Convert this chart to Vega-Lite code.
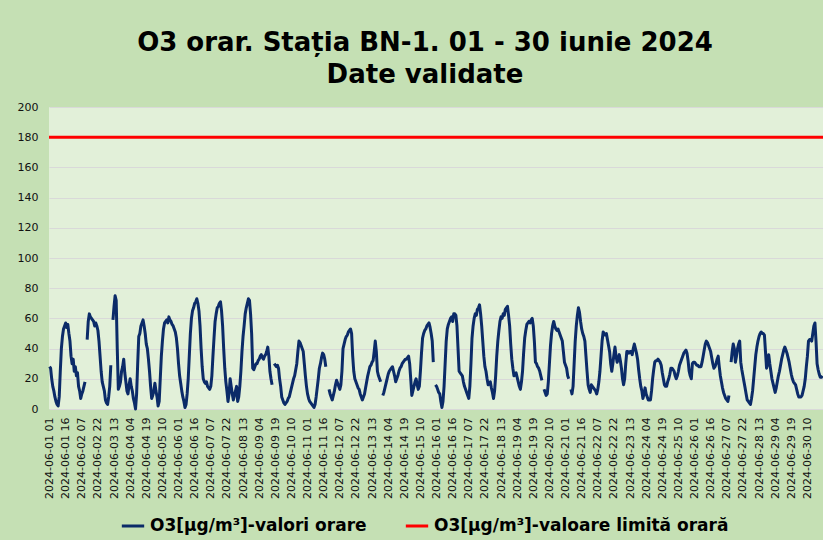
{
  "$schema": "https://vega.github.io/schema/vega-lite/v6.json",
  "autosize": {"type": "none"},
  "width": 774,
  "height": 302,
  "padding": {"left": 49, "top": 107, "right": 0, "bottom": 131},
  "background": "#c5e0b4",
  "title": {
    "text": ["O3 orar. Stația BN-1. 01 - 30 iunie 2024", "Date validate"],
    "font": "DejaVu Sans",
    "fontSize": 26,
    "fontWeight": "bold",
    "color": "#000000",
    "lineHeight": 32,
    "anchor": "middle",
    "dx": -11,
    "offset": 13
  },
  "config": {
    "view": {"fill": "#e2f0d9", "stroke": null},
    "font": "DejaVu Sans",
    "axisY": {
      "values": [0,20,40,60,80,100,120,140,160,180,200],
      "labelFontSize": 11, "labelColor": "#111111", "labelFont": "DejaVu Sans",
      "labelOverlap": false, "labelFlush": false,
      "ticks": false, "domain": false, "labelPadding": 11,
      "grid": true, "gridColor": "#d9d9d9", "gridWidth": 1, "title": null
    }
  },
  "layer": [
    {
      "data": {"values": [
{"t":"2024-06-01 01","v":28},{"t":"2024-06-01 02","v":27},{"t":"2024-06-01 03","v":20},{"t":"2024-06-01 04","v":15},{"t":"2024-06-01 05","v":12},{"t":"2024-06-01 06","v":8},{"t":"2024-06-01 07","v":5},{"t":"2024-06-01 08","v":3},{"t":"2024-06-01 09","v":2},{"t":"2024-06-01 10","v":8},{"t":"2024-06-01 11","v":25},{"t":"2024-06-01 12","v":40},{"t":"2024-06-01 13","v":48},{"t":"2024-06-01 14","v":53},{"t":"2024-06-01 15","v":55},{"t":"2024-06-01 16","v":57},{"t":"2024-06-01 17","v":54},{"t":"2024-06-01 18","v":56},{"t":"2024-06-01 19","v":50},{"t":"2024-06-01 20","v":45},{"t":"2024-06-01 21","v":35},{"t":"2024-06-01 22","v":30},{"t":"2024-06-01 23","v":33},{"t":"2024-06-01 24","v":25},
{"t":"2024-06-02 01","v":28},{"t":"2024-06-02 02","v":22},{"t":"2024-06-02 03","v":24},{"t":"2024-06-02 04","v":15},{"t":"2024-06-02 05","v":12},{"t":"2024-06-02 06","v":7},{"t":"2024-06-02 07","v":10},{"t":"2024-06-02 08","v":12},{"t":"2024-06-02 09","v":15},{"t":"2024-06-02 10","v":18},{"t":"2024-06-02 11","v":null},{"t":"2024-06-02 12","v":46},{"t":"2024-06-02 13","v":58},{"t":"2024-06-02 14","v":63},{"t":"2024-06-02 15","v":61},{"t":"2024-06-02 16","v":60},{"t":"2024-06-02 17","v":59},{"t":"2024-06-02 18","v":58},{"t":"2024-06-02 19","v":55},{"t":"2024-06-02 20","v":57},{"t":"2024-06-02 21","v":55},{"t":"2024-06-02 22","v":52},{"t":"2024-06-02 23","v":45},{"t":"2024-06-02 24","v":35},
{"t":"2024-06-03 01","v":25},{"t":"2024-06-03 02","v":18},{"t":"2024-06-03 03","v":15},{"t":"2024-06-03 04","v":12},{"t":"2024-06-03 05","v":6},{"t":"2024-06-03 06","v":4},{"t":"2024-06-03 07","v":3},{"t":"2024-06-03 08","v":8},{"t":"2024-06-03 09","v":15},{"t":"2024-06-03 10","v":29},{"t":"2024-06-03 11","v":null},{"t":"2024-06-03 12","v":59},{"t":"2024-06-03 13","v":68},{"t":"2024-06-03 14","v":75},{"t":"2024-06-03 15","v":72},{"t":"2024-06-03 16","v":40},{"t":"2024-06-03 17","v":13},{"t":"2024-06-03 18","v":15},{"t":"2024-06-03 19","v":18},{"t":"2024-06-03 20","v":25},{"t":"2024-06-03 21","v":28},{"t":"2024-06-03 22","v":33},{"t":"2024-06-03 23","v":24},{"t":"2024-06-03 24","v":18},
{"t":"2024-06-04 01","v":12},{"t":"2024-06-04 02","v":10},{"t":"2024-06-04 03","v":16},{"t":"2024-06-04 04","v":20},{"t":"2024-06-04 05","v":15},{"t":"2024-06-04 06","v":12},{"t":"2024-06-04 07","v":7},{"t":"2024-06-04 08","v":4},{"t":"2024-06-04 09","v":0},{"t":"2024-06-04 10","v":10},{"t":"2024-06-04 11","v":30},{"t":"2024-06-04 12","v":48},{"t":"2024-06-04 13","v":50},{"t":"2024-06-04 14","v":55},{"t":"2024-06-04 15","v":57},{"t":"2024-06-04 16","v":59},{"t":"2024-06-04 17","v":55},{"t":"2024-06-04 18","v":50},{"t":"2024-06-04 19","v":43},{"t":"2024-06-04 20","v":40},{"t":"2024-06-04 21","v":33},{"t":"2024-06-04 22","v":25},{"t":"2024-06-04 23","v":15},{"t":"2024-06-04 24","v":7},
{"t":"2024-06-05 01","v":9},{"t":"2024-06-05 02","v":12},{"t":"2024-06-05 03","v":17},{"t":"2024-06-05 04","v":12},{"t":"2024-06-05 05","v":8},{"t":"2024-06-05 06","v":2},{"t":"2024-06-05 07","v":5},{"t":"2024-06-05 08","v":20},{"t":"2024-06-05 09","v":35},{"t":"2024-06-05 10","v":45},{"t":"2024-06-05 11","v":53},{"t":"2024-06-05 12","v":57},{"t":"2024-06-05 13","v":58},{"t":"2024-06-05 14","v":59},{"t":"2024-06-05 15","v":57},{"t":"2024-06-05 16","v":61},{"t":"2024-06-05 17","v":59},{"t":"2024-06-05 18","v":58},{"t":"2024-06-05 19","v":56},{"t":"2024-06-05 20","v":55},{"t":"2024-06-05 21","v":53},{"t":"2024-06-05 22","v":51},{"t":"2024-06-05 23","v":47},{"t":"2024-06-05 24","v":40},
{"t":"2024-06-06 01","v":30},{"t":"2024-06-06 02","v":22},{"t":"2024-06-06 03","v":17},{"t":"2024-06-06 04","v":12},{"t":"2024-06-06 05","v":8},{"t":"2024-06-06 06","v":5},{"t":"2024-06-06 07","v":1},{"t":"2024-06-06 08","v":3},{"t":"2024-06-06 09","v":10},{"t":"2024-06-06 10","v":20},{"t":"2024-06-06 11","v":35},{"t":"2024-06-06 12","v":50},{"t":"2024-06-06 13","v":60},{"t":"2024-06-06 14","v":65},{"t":"2024-06-06 15","v":67},{"t":"2024-06-06 16","v":70},{"t":"2024-06-06 17","v":71},{"t":"2024-06-06 18","v":73},{"t":"2024-06-06 19","v":70},{"t":"2024-06-06 20","v":65},{"t":"2024-06-06 21","v":55},{"t":"2024-06-06 22","v":40},{"t":"2024-06-06 23","v":28},{"t":"2024-06-06 24","v":20},
{"t":"2024-06-07 01","v":18},{"t":"2024-06-07 02","v":17},{"t":"2024-06-07 03","v":18},{"t":"2024-06-07 04","v":15},{"t":"2024-06-07 05","v":14},{"t":"2024-06-07 06","v":13},{"t":"2024-06-07 07","v":15},{"t":"2024-06-07 08","v":22},{"t":"2024-06-07 09","v":35},{"t":"2024-06-07 10","v":47},{"t":"2024-06-07 11","v":58},{"t":"2024-06-07 12","v":63},{"t":"2024-06-07 13","v":67},{"t":"2024-06-07 14","v":68},{"t":"2024-06-07 15","v":70},{"t":"2024-06-07 16","v":71},{"t":"2024-06-07 17","v":65},{"t":"2024-06-07 18","v":55},{"t":"2024-06-07 19","v":40},{"t":"2024-06-07 20","v":27},{"t":"2024-06-07 21","v":18},{"t":"2024-06-07 22","v":12},{"t":"2024-06-07 23","v":5},{"t":"2024-06-07 24","v":10},
{"t":"2024-06-08 01","v":20},{"t":"2024-06-08 02","v":15},{"t":"2024-06-08 03","v":10},{"t":"2024-06-08 04","v":6},{"t":"2024-06-08 05","v":9},{"t":"2024-06-08 06","v":12},{"t":"2024-06-08 07","v":15},{"t":"2024-06-08 08","v":5},{"t":"2024-06-08 09","v":8},{"t":"2024-06-08 10","v":15},{"t":"2024-06-08 11","v":25},{"t":"2024-06-08 12","v":38},{"t":"2024-06-08 13","v":48},{"t":"2024-06-08 14","v":55},{"t":"2024-06-08 15","v":63},{"t":"2024-06-08 16","v":67},{"t":"2024-06-08 17","v":70},{"t":"2024-06-08 18","v":73},{"t":"2024-06-08 19","v":72},{"t":"2024-06-08 20","v":63},{"t":"2024-06-08 21","v":50},{"t":"2024-06-08 22","v":27},{"t":"2024-06-08 23","v":26},{"t":"2024-06-08 24","v":28},
{"t":"2024-06-09 01","v":30},{"t":"2024-06-09 02","v":30},{"t":"2024-06-09 03","v":32},{"t":"2024-06-09 04","v":33},{"t":"2024-06-09 05","v":35},{"t":"2024-06-09 06","v":36},{"t":"2024-06-09 07","v":34},{"t":"2024-06-09 08","v":33},{"t":"2024-06-09 09","v":35},{"t":"2024-06-09 10","v":36},{"t":"2024-06-09 11","v":38},{"t":"2024-06-09 12","v":41},{"t":"2024-06-09 13","v":35},{"t":"2024-06-09 14","v":25},{"t":"2024-06-09 15","v":20},{"t":"2024-06-09 16","v":16},{"t":"2024-06-09 17","v":null},{"t":"2024-06-09 18","v":30},{"t":"2024-06-09 19","v":29},{"t":"2024-06-09 20","v":28},{"t":"2024-06-09 21","v":29},{"t":"2024-06-09 22","v":27},{"t":"2024-06-09 23","v":20},{"t":"2024-06-09 24","v":15},
{"t":"2024-06-10 01","v":8},{"t":"2024-06-10 02","v":6},{"t":"2024-06-10 03","v":4},{"t":"2024-06-10 04","v":3},{"t":"2024-06-10 05","v":4},{"t":"2024-06-10 06","v":5},{"t":"2024-06-10 07","v":7},{"t":"2024-06-10 08","v":8},{"t":"2024-06-10 09","v":11},{"t":"2024-06-10 10","v":14},{"t":"2024-06-10 11","v":17},{"t":"2024-06-10 12","v":20},{"t":"2024-06-10 13","v":22},{"t":"2024-06-10 14","v":26},{"t":"2024-06-10 15","v":30},{"t":"2024-06-10 16","v":38},{"t":"2024-06-10 17","v":45},{"t":"2024-06-10 18","v":44},{"t":"2024-06-10 19","v":42},{"t":"2024-06-10 20","v":40},{"t":"2024-06-10 21","v":38},{"t":"2024-06-10 22","v":30},{"t":"2024-06-10 23","v":22},{"t":"2024-06-10 24","v":15},
{"t":"2024-06-11 01","v":10},{"t":"2024-06-11 02","v":7},{"t":"2024-06-11 03","v":5},{"t":"2024-06-11 04","v":4},{"t":"2024-06-11 05","v":3},{"t":"2024-06-11 06","v":2},{"t":"2024-06-11 07","v":1},{"t":"2024-06-11 08","v":3},{"t":"2024-06-11 09","v":8},{"t":"2024-06-11 10","v":14},{"t":"2024-06-11 11","v":20},{"t":"2024-06-11 12","v":27},{"t":"2024-06-11 13","v":30},{"t":"2024-06-11 14","v":34},{"t":"2024-06-11 15","v":37},{"t":"2024-06-11 16","v":36},{"t":"2024-06-11 17","v":33},{"t":"2024-06-11 18","v":28},{"t":"2024-06-11 19","v":null},{"t":"2024-06-11 20","v":null},{"t":"2024-06-11 21","v":13},{"t":"2024-06-11 22","v":10},{"t":"2024-06-11 23","v":8},{"t":"2024-06-11 24","v":6},
{"t":"2024-06-12 01","v":9},{"t":"2024-06-12 02","v":12},{"t":"2024-06-12 03","v":16},{"t":"2024-06-12 04","v":19},{"t":"2024-06-12 05","v":17},{"t":"2024-06-12 06","v":15},{"t":"2024-06-12 07","v":13},{"t":"2024-06-12 08","v":16},{"t":"2024-06-12 09","v":25},{"t":"2024-06-12 10","v":40},{"t":"2024-06-12 11","v":43},{"t":"2024-06-12 12","v":46},{"t":"2024-06-12 13","v":48},{"t":"2024-06-12 14","v":49},{"t":"2024-06-12 15","v":51},{"t":"2024-06-12 16","v":52},{"t":"2024-06-12 17","v":53},{"t":"2024-06-12 18","v":50},{"t":"2024-06-12 19","v":35},{"t":"2024-06-12 20","v":25},{"t":"2024-06-12 21","v":20},{"t":"2024-06-12 22","v":18},{"t":"2024-06-12 23","v":16},{"t":"2024-06-12 24","v":14},
{"t":"2024-06-13 01","v":13},{"t":"2024-06-13 02","v":10},{"t":"2024-06-13 03","v":8},{"t":"2024-06-13 04","v":6},{"t":"2024-06-13 05","v":8},{"t":"2024-06-13 06","v":10},{"t":"2024-06-13 07","v":14},{"t":"2024-06-13 08","v":18},{"t":"2024-06-13 09","v":22},{"t":"2024-06-13 10","v":25},{"t":"2024-06-13 11","v":28},{"t":"2024-06-13 12","v":29},{"t":"2024-06-13 13","v":31},{"t":"2024-06-13 14","v":32},{"t":"2024-06-13 15","v":38},{"t":"2024-06-13 16","v":45},{"t":"2024-06-13 17","v":38},{"t":"2024-06-13 18","v":25},{"t":"2024-06-13 19","v":22},{"t":"2024-06-13 20","v":20},{"t":"2024-06-13 21","v":18},{"t":"2024-06-13 22","v":null},{"t":"2024-06-13 23","v":9},{"t":"2024-06-13 24","v":11},
{"t":"2024-06-14 01","v":14},{"t":"2024-06-14 02","v":17},{"t":"2024-06-14 03","v":20},{"t":"2024-06-14 04","v":23},{"t":"2024-06-14 05","v":25},{"t":"2024-06-14 06","v":26},{"t":"2024-06-14 07","v":27},{"t":"2024-06-14 08","v":28},{"t":"2024-06-14 09","v":25},{"t":"2024-06-14 10","v":22},{"t":"2024-06-14 11","v":18},{"t":"2024-06-14 12","v":20},{"t":"2024-06-14 13","v":22},{"t":"2024-06-14 14","v":25},{"t":"2024-06-14 15","v":27},{"t":"2024-06-14 16","v":28},{"t":"2024-06-14 17","v":30},{"t":"2024-06-14 18","v":31},{"t":"2024-06-14 19","v":32},{"t":"2024-06-14 20","v":33},{"t":"2024-06-14 21","v":33},{"t":"2024-06-14 22","v":34},{"t":"2024-06-14 23","v":35},{"t":"2024-06-14 24","v":30},
{"t":"2024-06-15 01","v":20},{"t":"2024-06-15 02","v":9},{"t":"2024-06-15 03","v":12},{"t":"2024-06-15 04","v":15},{"t":"2024-06-15 05","v":18},{"t":"2024-06-15 06","v":20},{"t":"2024-06-15 07","v":16},{"t":"2024-06-15 08","v":13},{"t":"2024-06-15 09","v":15},{"t":"2024-06-15 10","v":25},{"t":"2024-06-15 11","v":37},{"t":"2024-06-15 12","v":47},{"t":"2024-06-15 13","v":50},{"t":"2024-06-15 14","v":52},{"t":"2024-06-15 15","v":53},{"t":"2024-06-15 16","v":55},{"t":"2024-06-15 17","v":56},{"t":"2024-06-15 18","v":57},{"t":"2024-06-15 19","v":54},{"t":"2024-06-15 20","v":50},{"t":"2024-06-15 21","v":45},{"t":"2024-06-15 22","v":31},{"t":"2024-06-15 23","v":null},{"t":"2024-06-15 24","v":16},
{"t":"2024-06-16 01","v":15},{"t":"2024-06-16 02","v":13},{"t":"2024-06-16 03","v":11},{"t":"2024-06-16 04","v":10},{"t":"2024-06-16 05","v":5},{"t":"2024-06-16 06","v":1},{"t":"2024-06-16 07","v":5},{"t":"2024-06-16 08","v":15},{"t":"2024-06-16 09","v":30},{"t":"2024-06-16 10","v":45},{"t":"2024-06-16 11","v":53},{"t":"2024-06-16 12","v":56},{"t":"2024-06-16 13","v":58},{"t":"2024-06-16 14","v":60},{"t":"2024-06-16 15","v":61},{"t":"2024-06-16 16","v":58},{"t":"2024-06-16 17","v":63},{"t":"2024-06-16 18","v":63},{"t":"2024-06-16 19","v":62},{"t":"2024-06-16 20","v":55},{"t":"2024-06-16 21","v":40},{"t":"2024-06-16 22","v":25},{"t":"2024-06-16 23","v":24},{"t":"2024-06-16 24","v":23},
{"t":"2024-06-17 01","v":22},{"t":"2024-06-17 02","v":18},{"t":"2024-06-17 03","v":15},{"t":"2024-06-17 04","v":13},{"t":"2024-06-17 05","v":11},{"t":"2024-06-17 06","v":9},{"t":"2024-06-17 07","v":7},{"t":"2024-06-17 08","v":15},{"t":"2024-06-17 09","v":30},{"t":"2024-06-17 10","v":47},{"t":"2024-06-17 11","v":55},{"t":"2024-06-17 12","v":60},{"t":"2024-06-17 13","v":63},{"t":"2024-06-17 14","v":62},{"t":"2024-06-17 15","v":66},{"t":"2024-06-17 16","v":67},{"t":"2024-06-17 17","v":69},{"t":"2024-06-17 18","v":63},{"t":"2024-06-17 19","v":55},{"t":"2024-06-17 20","v":45},{"t":"2024-06-17 21","v":35},{"t":"2024-06-17 22","v":28},{"t":"2024-06-17 23","v":25},{"t":"2024-06-17 24","v":20},
{"t":"2024-06-18 01","v":16},{"t":"2024-06-18 02","v":17},{"t":"2024-06-18 03","v":18},{"t":"2024-06-18 04","v":14},{"t":"2024-06-18 05","v":11},{"t":"2024-06-18 06","v":7},{"t":"2024-06-18 07","v":12},{"t":"2024-06-18 08","v":22},{"t":"2024-06-18 09","v":35},{"t":"2024-06-18 10","v":45},{"t":"2024-06-18 11","v":52},{"t":"2024-06-18 12","v":58},{"t":"2024-06-18 13","v":61},{"t":"2024-06-18 14","v":60},{"t":"2024-06-18 15","v":63},{"t":"2024-06-18 16","v":62},{"t":"2024-06-18 17","v":66},{"t":"2024-06-18 18","v":67},{"t":"2024-06-18 19","v":68},{"t":"2024-06-18 20","v":62},{"t":"2024-06-18 21","v":55},{"t":"2024-06-18 22","v":43},{"t":"2024-06-18 23","v":33},{"t":"2024-06-18 24","v":27},
{"t":"2024-06-19 01","v":22},{"t":"2024-06-19 02","v":23},{"t":"2024-06-19 03","v":24},{"t":"2024-06-19 04","v":21},{"t":"2024-06-19 05","v":18},{"t":"2024-06-19 06","v":15},{"t":"2024-06-19 07","v":13},{"t":"2024-06-19 08","v":18},{"t":"2024-06-19 09","v":25},{"t":"2024-06-19 10","v":37},{"t":"2024-06-19 11","v":47},{"t":"2024-06-19 12","v":52},{"t":"2024-06-19 13","v":56},{"t":"2024-06-19 14","v":57},{"t":"2024-06-19 15","v":58},{"t":"2024-06-19 16","v":57},{"t":"2024-06-19 17","v":59},{"t":"2024-06-19 18","v":60},{"t":"2024-06-19 19","v":55},{"t":"2024-06-19 20","v":45},{"t":"2024-06-19 21","v":31},{"t":"2024-06-19 22","v":30},{"t":"2024-06-19 23","v":28},{"t":"2024-06-19 24","v":27},
{"t":"2024-06-20 01","v":25},{"t":"2024-06-20 02","v":22},{"t":"2024-06-20 03","v":19},{"t":"2024-06-20 04","v":null},{"t":"2024-06-20 05","v":13},{"t":"2024-06-20 06","v":11},{"t":"2024-06-20 07","v":9},{"t":"2024-06-20 08","v":10},{"t":"2024-06-20 09","v":18},{"t":"2024-06-20 10","v":30},{"t":"2024-06-20 11","v":42},{"t":"2024-06-20 12","v":50},{"t":"2024-06-20 13","v":55},{"t":"2024-06-20 14","v":58},{"t":"2024-06-20 15","v":55},{"t":"2024-06-20 16","v":53},{"t":"2024-06-20 17","v":52},{"t":"2024-06-20 18","v":53},{"t":"2024-06-20 19","v":51},{"t":"2024-06-20 20","v":49},{"t":"2024-06-20 21","v":47},{"t":"2024-06-20 22","v":45},{"t":"2024-06-20 23","v":38},{"t":"2024-06-20 24","v":31},
{"t":"2024-06-21 01","v":29},{"t":"2024-06-21 02","v":27},{"t":"2024-06-21 03","v":22},{"t":"2024-06-21 04","v":20},{"t":"2024-06-21 05","v":null},{"t":"2024-06-21 06","v":13},{"t":"2024-06-21 07","v":10},{"t":"2024-06-21 08","v":15},{"t":"2024-06-21 09","v":30},{"t":"2024-06-21 10","v":45},{"t":"2024-06-21 11","v":55},{"t":"2024-06-21 12","v":62},{"t":"2024-06-21 13","v":67},{"t":"2024-06-21 14","v":64},{"t":"2024-06-21 15","v":58},{"t":"2024-06-21 16","v":53},{"t":"2024-06-21 17","v":50},{"t":"2024-06-21 18","v":48},{"t":"2024-06-21 19","v":45},{"t":"2024-06-21 20","v":35},{"t":"2024-06-21 21","v":25},{"t":"2024-06-21 22","v":16},{"t":"2024-06-21 23","v":13},{"t":"2024-06-21 24","v":11},
{"t":"2024-06-22 01","v":16},{"t":"2024-06-22 02","v":15},{"t":"2024-06-22 03","v":14},{"t":"2024-06-22 04","v":13},{"t":"2024-06-22 05","v":12},{"t":"2024-06-22 06","v":10},{"t":"2024-06-22 07","v":13},{"t":"2024-06-22 08","v":18},{"t":"2024-06-22 09","v":25},{"t":"2024-06-22 10","v":35},{"t":"2024-06-22 11","v":45},{"t":"2024-06-22 12","v":51},{"t":"2024-06-22 13","v":50},{"t":"2024-06-22 14","v":49},{"t":"2024-06-22 15","v":50},{"t":"2024-06-22 16","v":46},{"t":"2024-06-22 17","v":42},{"t":"2024-06-22 18","v":38},{"t":"2024-06-22 19","v":30},{"t":"2024-06-22 20","v":25},{"t":"2024-06-22 21","v":30},{"t":"2024-06-22 22","v":36},{"t":"2024-06-22 23","v":41},{"t":"2024-06-22 24","v":35},
{"t":"2024-06-23 01","v":31},{"t":"2024-06-23 02","v":33},{"t":"2024-06-23 03","v":36},{"t":"2024-06-23 04","v":32},{"t":"2024-06-23 05","v":27},{"t":"2024-06-23 06","v":20},{"t":"2024-06-23 07","v":16},{"t":"2024-06-23 08","v":20},{"t":"2024-06-23 09","v":30},{"t":"2024-06-23 10","v":38},{"t":"2024-06-23 11","v":38},{"t":"2024-06-23 12","v":37},{"t":"2024-06-23 13","v":38},{"t":"2024-06-23 14","v":38},{"t":"2024-06-23 15","v":36},{"t":"2024-06-23 16","v":40},{"t":"2024-06-23 17","v":43},{"t":"2024-06-23 18","v":40},{"t":"2024-06-23 19","v":37},{"t":"2024-06-23 20","v":33},{"t":"2024-06-23 21","v":26},{"t":"2024-06-23 22","v":20},{"t":"2024-06-23 23","v":15},{"t":"2024-06-23 24","v":12},
{"t":"2024-06-24 01","v":7},{"t":"2024-06-24 02","v":10},{"t":"2024-06-24 03","v":14},{"t":"2024-06-24 04","v":10},{"t":"2024-06-24 05","v":8},{"t":"2024-06-24 06","v":6},{"t":"2024-06-24 07","v":6},{"t":"2024-06-24 08","v":6},{"t":"2024-06-24 09","v":12},{"t":"2024-06-24 10","v":20},{"t":"2024-06-24 11","v":26},{"t":"2024-06-24 12","v":31},{"t":"2024-06-24 13","v":32},{"t":"2024-06-24 14","v":32},{"t":"2024-06-24 15","v":33},{"t":"2024-06-24 16","v":32},{"t":"2024-06-24 17","v":31},{"t":"2024-06-24 18","v":29},{"t":"2024-06-24 19","v":24},{"t":"2024-06-24 20","v":20},{"t":"2024-06-24 21","v":16},{"t":"2024-06-24 22","v":15},{"t":"2024-06-24 23","v":15},{"t":"2024-06-24 24","v":18},
{"t":"2024-06-25 01","v":20},{"t":"2024-06-25 02","v":23},{"t":"2024-06-25 03","v":27},{"t":"2024-06-25 04","v":27},{"t":"2024-06-25 05","v":26},{"t":"2024-06-25 06","v":25},{"t":"2024-06-25 07","v":22},{"t":"2024-06-25 08","v":20},{"t":"2024-06-25 09","v":22},{"t":"2024-06-25 10","v":25},{"t":"2024-06-25 11","v":29},{"t":"2024-06-25 12","v":31},{"t":"2024-06-25 13","v":33},{"t":"2024-06-25 14","v":35},{"t":"2024-06-25 15","v":37},{"t":"2024-06-25 16","v":38},{"t":"2024-06-25 17","v":39},{"t":"2024-06-25 18","v":37},{"t":"2024-06-25 19","v":32},{"t":"2024-06-25 20","v":25},{"t":"2024-06-25 21","v":22},{"t":"2024-06-25 22","v":20},{"t":"2024-06-25 23","v":30},{"t":"2024-06-25 24","v":31},
{"t":"2024-06-26 01","v":31},{"t":"2024-06-26 02","v":30},{"t":"2024-06-26 03","v":29},{"t":"2024-06-26 04","v":29},{"t":"2024-06-26 05","v":28},{"t":"2024-06-26 06","v":28},{"t":"2024-06-26 07","v":28},{"t":"2024-06-26 08","v":31},{"t":"2024-06-26 09","v":35},{"t":"2024-06-26 10","v":39},{"t":"2024-06-26 11","v":43},{"t":"2024-06-26 12","v":45},{"t":"2024-06-26 13","v":44},{"t":"2024-06-26 14","v":42},{"t":"2024-06-26 15","v":40},{"t":"2024-06-26 16","v":38},{"t":"2024-06-26 17","v":34},{"t":"2024-06-26 18","v":30},{"t":"2024-06-26 19","v":27},{"t":"2024-06-26 20","v":28},{"t":"2024-06-26 21","v":30},{"t":"2024-06-26 22","v":33},{"t":"2024-06-26 23","v":35},{"t":"2024-06-26 24","v":28},
{"t":"2024-06-27 01","v":22},{"t":"2024-06-27 02","v":18},{"t":"2024-06-27 03","v":14},{"t":"2024-06-27 04","v":11},{"t":"2024-06-27 05","v":9},{"t":"2024-06-27 06","v":7},{"t":"2024-06-27 07","v":6},{"t":"2024-06-27 08","v":5},{"t":"2024-06-27 09","v":9},{"t":"2024-06-27 10","v":null},{"t":"2024-06-27 11","v":31},{"t":"2024-06-27 12","v":38},{"t":"2024-06-27 13","v":43},{"t":"2024-06-27 14","v":40},{"t":"2024-06-27 15","v":31},{"t":"2024-06-27 16","v":35},{"t":"2024-06-27 17","v":40},{"t":"2024-06-27 18","v":43},{"t":"2024-06-27 19","v":45},{"t":"2024-06-27 20","v":31},{"t":"2024-06-27 21","v":26},{"t":"2024-06-27 22","v":22},{"t":"2024-06-27 23","v":18},{"t":"2024-06-27 24","v":14},
{"t":"2024-06-28 01","v":10},{"t":"2024-06-28 02","v":6},{"t":"2024-06-28 03","v":5},{"t":"2024-06-28 04","v":4},{"t":"2024-06-28 05","v":3},{"t":"2024-06-28 06","v":7},{"t":"2024-06-28 07","v":12},{"t":"2024-06-28 08","v":20},{"t":"2024-06-28 09","v":28},{"t":"2024-06-28 10","v":36},{"t":"2024-06-28 11","v":41},{"t":"2024-06-28 12","v":45},{"t":"2024-06-28 13","v":48},{"t":"2024-06-28 14","v":50},{"t":"2024-06-28 15","v":51},{"t":"2024-06-28 16","v":50},{"t":"2024-06-28 17","v":50},{"t":"2024-06-28 18","v":49},{"t":"2024-06-28 19","v":38},{"t":"2024-06-28 20","v":27},{"t":"2024-06-28 21","v":30},{"t":"2024-06-28 22","v":36},{"t":"2024-06-28 23","v":30},{"t":"2024-06-28 24","v":25},
{"t":"2024-06-29 01","v":20},{"t":"2024-06-29 02","v":17},{"t":"2024-06-29 03","v":14},{"t":"2024-06-29 04","v":11},{"t":"2024-06-29 05","v":14},{"t":"2024-06-29 06","v":18},{"t":"2024-06-29 07","v":22},{"t":"2024-06-29 08","v":25},{"t":"2024-06-29 09","v":29},{"t":"2024-06-29 10","v":33},{"t":"2024-06-29 11","v":36},{"t":"2024-06-29 12","v":39},{"t":"2024-06-29 13","v":41},{"t":"2024-06-29 14","v":39},{"t":"2024-06-29 15","v":37},{"t":"2024-06-29 16","v":34},{"t":"2024-06-29 17","v":31},{"t":"2024-06-29 18","v":27},{"t":"2024-06-29 19","v":23},{"t":"2024-06-29 20","v":20},{"t":"2024-06-29 21","v":18},{"t":"2024-06-29 22","v":17},{"t":"2024-06-29 23","v":16},{"t":"2024-06-29 24","v":13},
{"t":"2024-06-30 01","v":10},{"t":"2024-06-30 02","v":8},{"t":"2024-06-30 03","v":8},{"t":"2024-06-30 04","v":8},{"t":"2024-06-30 05","v":9},{"t":"2024-06-30 06","v":12},{"t":"2024-06-30 07","v":15},{"t":"2024-06-30 08","v":20},{"t":"2024-06-30 09","v":28},{"t":"2024-06-30 10","v":35},{"t":"2024-06-30 11","v":45},{"t":"2024-06-30 12","v":46},{"t":"2024-06-30 13","v":46},{"t":"2024-06-30 14","v":45},{"t":"2024-06-30 15","v":50},{"t":"2024-06-30 16","v":55},{"t":"2024-06-30 17","v":57},{"t":"2024-06-30 18","v":45},{"t":"2024-06-30 19","v":30},{"t":"2024-06-30 20","v":26},{"t":"2024-06-30 21","v":23},{"t":"2024-06-30 22","v":21},{"t":"2024-06-30 23","v":21},{"t":"2024-06-30 24","v":22}
      ]},
      "mark": {"type": "line", "strokeWidth": 3, "strokeJoin": "round", "invalid": "break-paths-show-domains"},
      "encoding": {
        "x": {
          "field": "t", "type": "ordinal", "sort": null,
          "scale": {"type": "point", "padding": 0.5},
          "axis": {
            "title": null, "labelAngle": -90, "labelFontSize": 11, "labelColor": "#111111",
            "labelFont": "DejaVu Sans", "ticks": false, "domain": false, "grid": false,
            "labelPadding": 8, "labelOverlap": false,
            "values": ["2024-06-01 01","2024-06-01 16","2024-06-02 07","2024-06-02 22","2024-06-03 13","2024-06-04 04","2024-06-04 19","2024-06-05 10","2024-06-06 01","2024-06-06 16","2024-06-07 07","2024-06-07 22","2024-06-08 13","2024-06-09 04","2024-06-09 19","2024-06-10 10","2024-06-11 01","2024-06-11 16","2024-06-12 07","2024-06-12 22","2024-06-13 13","2024-06-14 04","2024-06-14 19","2024-06-15 10","2024-06-16 01","2024-06-16 16","2024-06-17 07","2024-06-17 22","2024-06-18 13","2024-06-19 04","2024-06-19 19","2024-06-20 10","2024-06-21 01","2024-06-21 16","2024-06-22 07","2024-06-22 22","2024-06-23 13","2024-06-24 04","2024-06-24 19","2024-06-25 10","2024-06-26 01","2024-06-26 16","2024-06-27 07","2024-06-27 22","2024-06-28 13","2024-06-29 04","2024-06-29 19","2024-06-30 10"]
          }
        },
        "y": {
          "field": "v", "type": "quantitative",
          "scale": {"domain": [0, 200], "nice": false, "zero": true},
          "axis": {"values": [0,20,40,60,80,100,120,140,160,180,200], "title": null}
        },
        "color": {
          "datum": "O3[µg/m³]-valori orare",
          "scale": {"domain": ["O3[µg/m³]-valori orare", "O3[µg/m³]-valoare limită orară"], "range": ["#0b2b68", "#ff0000"]},
          "legend": {
            "title": null, "orient": "none", "legendX": 71, "legendY": 406, "direction": "horizontal",
            "symbolType": "stroke", "symbolStrokeWidth": 3, "symbolSize": 500,
            "labelFontSize": 17, "labelFontWeight": "bold", "labelColor": "#000000",
            "labelFont": "DejaVu Sans", "columnPadding": 32, "labelOffset": 4, "labelLimit": 400
          }
        }
      }
    },
    {
      "data": {"values": [{"lim": 180}]},
      "mark": {"type": "rule", "strokeWidth": 3},
      "encoding": {
        "y": {"field": "lim", "type": "quantitative", "axis": {"values": [0,20,40,60,80,100,120,140,160,180,200], "title": null}},
        "color": {"datum": "O3[µg/m³]-valoare limită orară"}
      }
    }
  ]
}
